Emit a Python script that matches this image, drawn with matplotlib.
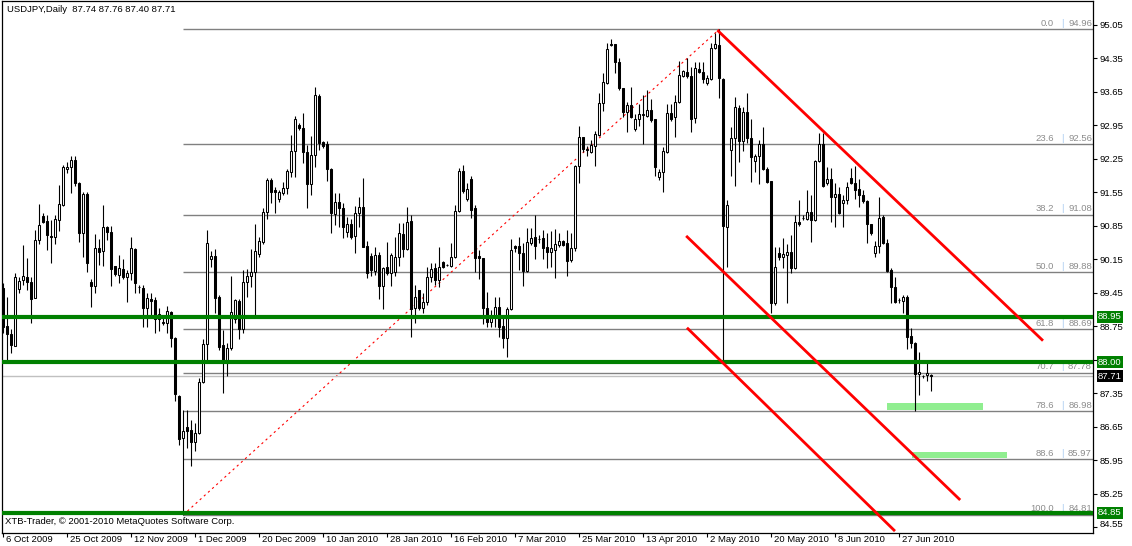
import matplotlib.pyplot as plt
import numpy as np
from matplotlib.patches import Rectangle
from matplotlib.transforms import ScaledTranslation

plt.rcParams["font.family"] = ["Liberation Sans", "DejaVu Sans"]
FS = 6.8

# daily USDJPY bars, 6 Oct 2009 .. 6 Jul 2010 (one bar per trading day, Sundays included)
opens = [
    89.55, 88.76, 88.59, 88.34, 89.53, 89.72, 89.78, 89.68, 89.34, 90.55,
    91.06, 90.95, 90.64, 90.62, 90.97, 91.29, 92.04, 92.08, 92.23, 91.75,
    90.70, 91.52, 89.68, 89.60, 90.39, 90.32, 90.83, 90.72, 90.01, 89.82,
    89.95, 89.78, 89.87, 90.37, 89.57, 89.55, 89.14, 89.32, 89.30, 88.90,
    88.82, 88.82, 89.05, 88.51, 87.30, 86.42, 86.65, 86.58, 86.33, 86.52,
    87.59, 88.38, 90.16, 90.22, 89.37, 88.36, 87.99, 88.30, 88.90, 89.28,
    88.69, 89.68, 89.80, 89.89, 90.26, 90.51, 91.14, 91.81, 91.60, 91.41,
    91.54, 91.64, 91.97, 92.41, 92.96, 92.90, 92.39, 91.72, 92.33, 93.56,
    92.60, 92.56, 92.04, 91.10, 91.35, 91.22, 90.72, 90.89, 90.64, 91.12,
    91.24, 90.43, 90.22, 89.91, 90.24, 89.60, 89.99, 89.87, 89.89, 90.20,
    90.68, 90.37, 90.95, 89.14, 89.51, 89.14, 89.26, 89.78, 89.97, 89.72,
    90.10, 90.03, 90.01, 90.20, 91.16, 91.99, 91.41, 91.83, 91.22, 90.22,
    90.18, 89.14, 88.84, 88.97, 89.16, 88.76, 88.51, 89.11, 90.43, 90.43,
    90.28, 89.91, 90.49, 90.62, 90.57, 90.60, 90.41, 90.30, 90.35, 90.45,
    90.53, 90.49, 90.14, 90.39, 92.10, 92.71, 92.44, 92.39, 92.52, 92.75,
    93.42, 93.84, 94.63, 94.65, 94.27, 93.73, 93.23, 93.38, 92.87, 93.08,
    93.17, 93.15, 93.27, 93.08, 91.87, 91.97, 92.39, 93.21, 93.12, 93.44,
    93.98, 94.07, 93.98, 93.10, 94.13, 94.07, 93.84, 93.92, 94.57, 94.63,
    93.92, 90.83, 92.44, 92.69, 93.31, 92.62, 93.23, 92.69, 92.20, 92.31,
    92.56, 92.04, 91.79, 89.24, 90.28, 90.20, 90.24, 90.30, 89.97, 90.93,
    91.01, 90.99, 91.14, 90.97, 92.20, 92.56, 91.75, 91.83, 91.45, 91.52,
    91.33, 91.39, 91.85, 91.75, 91.62, 91.50, 91.37, 90.89, 90.28, 90.43,
    91.04, 90.49, 89.93, 89.57, 89.30, 89.28, 89.37, 88.55, 88.40, 87.75,
    87.72, 87.73, 87.74,
]
highs = [
    89.66, 89.37, 88.69, 89.87, 89.78, 90.45, 90.18, 89.78, 90.76, 91.31,
    91.12, 91.08, 90.97, 91.08, 91.70, 92.12, 92.18, 92.31, 92.31, 91.77,
    91.56, 91.56, 89.74, 90.68, 90.57, 91.29, 90.85, 90.85, 90.01, 90.24,
    90.16, 89.93, 90.62, 90.39, 89.62, 89.62, 89.45, 89.45, 89.37, 89.14,
    88.93, 89.18, 89.07, 88.53, 87.32, 87.00, 87.00, 86.79, 86.73, 87.67,
    88.49, 90.76, 90.32, 90.37, 89.41, 88.67, 88.40, 89.80, 89.32, 89.32,
    89.93, 89.95, 90.37, 90.89, 90.62, 91.22, 91.85, 91.85, 91.66, 91.60,
    91.77, 92.04, 92.75, 93.15, 93.00, 93.21, 92.54, 92.73, 93.75, 93.60,
    92.62, 92.62, 92.06, 91.54, 91.54, 91.33, 91.04, 90.99, 91.27, 91.45,
    91.85, 90.53, 90.28, 90.41, 90.30, 89.99, 90.51, 90.28, 90.62, 90.91,
    90.91, 91.24, 91.08, 89.62, 89.51, 89.45, 89.99, 90.07, 90.07, 90.41,
    90.12, 90.05, 90.49, 91.29, 92.06, 92.12, 91.75, 91.89, 91.29, 90.35,
    90.18, 89.47, 89.09, 89.37, 89.37, 88.95, 89.16, 90.57, 90.45, 90.62,
    90.49, 90.81, 90.81, 91.08, 90.66, 90.76, 90.70, 90.74, 90.78, 90.70,
    90.55, 90.76, 90.70, 92.12, 92.94, 92.71, 92.52, 92.64, 92.83, 93.63,
    94.05, 94.67, 94.76, 94.65, 94.36, 93.73, 93.44, 93.75, 93.19, 93.40,
    93.58, 93.69, 93.50, 93.08, 92.04, 92.50, 93.40, 93.40, 93.58, 94.30,
    94.11, 94.36, 94.17, 94.27, 94.27, 94.27, 94.00, 94.67, 94.88, 94.96,
    93.94, 91.39, 92.92, 93.54, 93.38, 93.33, 93.63, 93.08, 92.35, 92.64,
    92.92, 92.08, 91.79, 90.41, 90.41, 90.60, 90.47, 90.66, 91.08, 91.39,
    91.08, 91.60, 91.50, 92.23, 92.79, 92.79, 92.08, 92.06, 91.75, 91.66,
    91.50, 91.77, 92.06, 92.10, 91.83, 91.60, 91.39, 90.89, 90.53, 91.45,
    91.08, 90.57, 89.97, 89.78, 89.34, 89.41, 89.41, 88.71, 88.42, 88.21,
    87.73, 87.99, 87.76,
]
lows = [
    88.61, 87.99, 88.19, 88.34, 89.45, 89.62, 89.51, 88.82, 89.34, 90.47,
    90.91, 90.35, 90.07, 90.47, 90.74, 91.27, 91.95, 91.54, 91.68, 90.51,
    90.20, 89.89, 89.16, 89.45, 90.03, 90.01, 90.55, 89.60, 89.80, 89.66,
    89.74, 89.26, 89.72, 89.45, 89.45, 88.74, 88.74, 88.99, 88.61, 88.65,
    88.78, 88.61, 88.32, 87.19, 86.27, 84.81, 86.21, 85.83, 86.15, 86.50,
    87.57, 87.99, 89.99, 89.03, 88.26, 87.36, 87.71, 88.26, 88.82, 88.49,
    88.61, 89.37, 89.57, 88.95, 90.20, 90.47, 90.99, 91.33, 91.12, 91.35,
    91.50, 91.52, 91.87, 91.87, 92.85, 92.16, 91.22, 91.50, 92.08, 92.44,
    92.48, 91.79, 90.70, 90.87, 90.83, 90.60, 90.62, 90.57, 90.28, 90.83,
    90.41, 89.76, 89.80, 89.82, 89.32, 89.11, 89.82, 89.60, 89.80, 90.01,
    90.20, 90.35, 88.53, 88.82, 89.09, 89.03, 89.20, 89.68, 89.62, 89.57,
    89.97, 90.01, 89.99, 90.18, 91.14, 91.54, 91.37, 91.01, 89.89, 89.74,
    88.80, 88.74, 88.74, 88.74, 88.53, 88.30, 88.11, 89.09, 90.30, 89.93,
    89.60, 89.89, 90.45, 90.16, 90.49, 90.16, 89.97, 89.99, 89.76, 90.41,
    90.43, 89.80, 90.10, 90.32, 91.75, 92.39, 92.31, 92.37, 92.10, 92.73,
    93.25, 93.82, 94.60, 94.05, 93.69, 93.12, 92.81, 93.10, 92.83, 92.94,
    92.56, 93.12, 93.02, 91.89, 91.81, 91.56, 92.37, 93.04, 92.71, 93.42,
    93.96, 93.94, 92.81, 93.00, 94.05, 93.84, 93.79, 93.90, 94.55, 93.52,
    87.99, 89.99, 91.90, 91.68, 92.18, 92.41, 92.58, 91.77, 91.97, 91.72,
    92.02, 91.75, 89.03, 89.20, 90.14, 89.97, 89.24, 89.87, 89.95, 90.85,
    90.97, 90.97, 90.51, 90.95, 92.18, 91.66, 91.70, 90.93, 90.83, 91.10,
    90.83, 91.31, 91.72, 91.41, 91.24, 91.33, 90.49, 90.66, 90.20, 90.28,
    90.47, 89.89, 89.24, 89.24, 89.24, 89.03, 88.28, 88.30, 86.98, 87.32,
    87.67, 87.61, 87.40,
]
closes = [
    88.74, 88.59, 88.36, 89.78, 89.70, 89.80, 89.68, 89.32, 90.55, 90.87,
    90.93, 90.66, 90.62, 90.99, 91.31, 92.08, 92.08, 92.23, 91.75, 90.70,
    91.52, 90.07, 89.60, 90.39, 90.30, 90.83, 90.72, 89.95, 89.85, 89.97,
    89.78, 89.87, 90.39, 89.66, 89.58, 89.14, 89.34, 89.28, 88.90, 89.01,
    88.84, 89.07, 88.51, 87.34, 86.40, 86.56, 86.56, 86.33, 86.52, 87.59,
    88.38, 90.49, 90.22, 89.34, 88.32, 87.99, 88.30, 89.05, 89.30, 88.69,
    89.68, 89.80, 89.89, 90.32, 90.53, 91.14, 91.81, 91.56, 91.56, 91.56,
    91.64, 91.99, 92.41, 93.08, 92.90, 92.39, 91.72, 92.33, 93.58, 92.58,
    92.52, 92.04, 91.12, 91.35, 91.22, 90.83, 90.89, 90.62, 91.12, 91.24,
    90.41, 89.87, 89.93, 90.24, 89.60, 89.97, 89.87, 90.24, 90.20, 90.70,
    90.37, 90.93, 89.11, 89.37, 89.14, 89.26, 89.78, 89.95, 89.72, 89.99,
    89.99, 90.04, 90.20, 91.16, 91.99, 91.58, 91.62, 91.18, 90.18, 90.18,
    89.14, 88.84, 88.97, 89.16, 88.74, 88.51, 89.11, 90.35, 90.39, 90.28,
    89.91, 90.51, 90.60, 90.43, 90.58, 90.39, 90.30, 90.39, 90.47, 90.53,
    90.45, 90.12, 90.39, 92.10, 92.71, 92.46, 92.45, 92.54, 92.77, 93.42,
    93.86, 94.55, 94.65, 94.27, 93.73, 93.23, 93.38, 93.12, 93.08, 93.19,
    93.18, 93.27, 93.06, 92.08, 91.97, 92.41, 93.21, 93.08, 93.44, 94.00,
    94.09, 93.98, 93.08, 94.15, 94.07, 93.92, 93.94, 94.57, 94.65, 93.94,
    90.85, 91.29, 92.69, 93.33, 92.62, 93.23, 92.69, 92.29, 92.31, 92.56,
    92.04, 91.77, 89.24, 89.99, 90.20, 90.26, 90.30, 89.97, 90.93, 90.89,
    91.02, 91.14, 90.97, 92.20, 92.56, 91.68, 91.83, 91.45, 91.52, 91.12,
    91.39, 91.66, 91.75, 91.60, 91.50, 91.37, 90.89, 90.70, 90.43, 91.01,
    90.49, 89.91, 89.57, 89.26, 89.29, 89.37, 88.53, 88.40, 87.75, 87.80,
    87.71, 87.77, 87.71,
]

date_bars = [0, 16, 32, 48, 64, 80, 96, 112, 128, 144, 160, 176, 192, 208, 224]
date_labels = ["6 Oct 2009", "25 Oct 2009", "12 Nov 2009", "1 Dec 2009", "20 Dec 2009",
               "10 Jan 2010", "28 Jan 2010", "16 Feb 2010", "7 Mar 2010", "25 Mar 2010",
               "13 Apr 2010", "2 May 2010", "20 May 2010", "8 Jun 2010", "27 Jun 2010"]
price_ticks = [84.55, 85.25, 85.95, 86.65, 87.35, 88.05, 88.75, 89.45,
               90.15, 90.85, 91.55, 92.25, 92.95, 93.65, 94.35, 95.05]

# Fibonacci retracement from the 27 Nov low to the 4 May high
fib_low, fib_high = 84.81, 94.96
fib_start, fib_end = 45, 179
fib_pcts = [0.0, 23.6, 38.2, 50.0, 61.8, 70.7, 78.6, 88.6, 100.0]
fib_prices = [94.96, 92.56, 91.08, 89.88, 88.69, 87.78, 86.98, 85.97, 84.81]

# horizontal levels and channel
green_levels = [88.95, 88.00, 84.85]
last_price = 87.71
channel = [((178.5, 94.94), (259.9, 88.45)),
           ((170.7, 90.64), (239.2, 85.12)),
           ((170.9, 88.72), (222.9, 84.47))]
# target zones (bar_from, bar_to, price_low, price_high)
zones = [(220.9, 244.9, 87.00, 87.15), (227.2, 250.9, 86.00, 86.12)]

o, h, l, c = map(np.array, (opens, highs, lows, closes))
x = np.arange(len(o))
up = c >= o

fig = plt.figure(figsize=(11.32, 5.46), dpi=100)
ax = fig.add_axes([2 / 1132, 13 / 546, 1091 / 1132, 532 / 546])
ax.set_xlim(-0.325, 272.4)
ax.set_ylim(84.43, 95.55)

# fib lines
for pct, p in zip(fib_pcts, fib_prices):
    ax.hlines(p, fib_start, 272.4, color="#808080", lw=1.0, zorder=1)
    ax.annotate(f"{pct:.1f}", (1, p), xycoords=("axes fraction", "data"),
                xytext=(-39, 1.5), textcoords="offset pixels", ha="right",
                va="bottom", fontsize=FS, color="#8c8c8c")
    ax.annotate("|", (1, p), xycoords=("axes fraction", "data"),
                xytext=(-31, 1.5), textcoords="offset pixels", ha="center",
                va="bottom", fontsize=FS, color="#a6caf0")
    ax.annotate(f"{p:.2f}", (1, p), xycoords=("axes fraction", "data"),
                xytext=(-1, 1.5), textcoords="offset pixels", ha="right",
                va="bottom", fontsize=FS, color="#8c8c8c")
ax.plot([fib_start, fib_end], [fib_low, fib_high], color="red", lw=0.8,
        ls=(0, (2, 3)), zorder=1)

ax.axhline(last_price, color="#c0c0c0", lw=1.0, zorder=1)

for x0, x1, y0, y1 in zones:
    ax.add_patch(Rectangle((x0, y0), x1 - x0, y1 - y0, color="#90ee90", lw=0, zorder=1.5))

# candles
ax.vlines(x, l, h, color="black", lw=0.8, zorder=2)
ax.bar(x, np.maximum(np.abs(c - o), 0.004), bottom=np.minimum(o, c), width=0.5,
       color=np.where(up, "white", "black"), edgecolor="black", lw=0.75, zorder=3)

for p in green_levels:
    ax.axhline(p, color="#008000", lw=3.0, zorder=4)

for (xa, ya), (xb, yb) in channel:
    ax.plot([xa, xb], [ya, yb], color="#ff0000", lw=2.0, zorder=5, solid_capstyle="butt")

# axes
for s in ax.spines.values():
    s.set_color("black")
    s.set_linewidth(0.9)
ax.yaxis.tick_right()
ax.set_yticks(price_ticks)
ax.set_yticklabels([f"{t:.2f}" for t in price_ticks])
ax.tick_params(axis="y", length=3, width=0.8, pad=2, labelsize=FS, direction="out")
ax.set_xticks(date_bars)
ax.set_xticklabels(date_labels)
ax.tick_params(axis="x", length=3, width=0.8, pad=-1.5, labelsize=FS, direction="out")
shift = ScaledTranslation(3 / 100, 0, fig.dpi_scale_trans)
for lbl in ax.get_xticklabels():
    lbl.set_ha("left")
    lbl.set_transform(lbl.get_transform() + shift)
# lowest scale label sits a little higher, as on the terminal
ylbls = ax.get_yticklabels()
ylbls[0].set_transform(ylbls[0].get_transform() + ScaledTranslation(0, 4 / 100, fig.dpi_scale_trans))

# price boxes on the scale
for p, bg in [(88.95, "#008000"), (88.00, "#008000"), (84.85, "#008000"), (last_price, "black")]:
    ax.annotate(f"{p:.2f}", (1, p), xycoords=("axes fraction", "data"),
                xytext=(5, 0), textcoords="offset pixels", ha="left", va="center",
                fontsize=FS, color="white", zorder=10, annotation_clip=False,
                bbox=dict(boxstyle="square,pad=0.15", fc=bg, ec="none"))

ax.annotate("USDJPY,Daily  87.74 87.76 87.40 87.71", (0, 1), xycoords="axes fraction",
            xytext=(5, -9), textcoords="offset pixels", ha="left", va="center",
            fontsize=FS, color="black")
ax.annotate("XTB-Trader, \u00a9 2001-2010 MetaQuotes Software Corp.", (0, 0),
            xycoords="axes fraction", xytext=(3, 12), textcoords="offset pixels",
            ha="left", va="center", fontsize=FS, color="black")

plt.savefig("out.png", dpi=100)
